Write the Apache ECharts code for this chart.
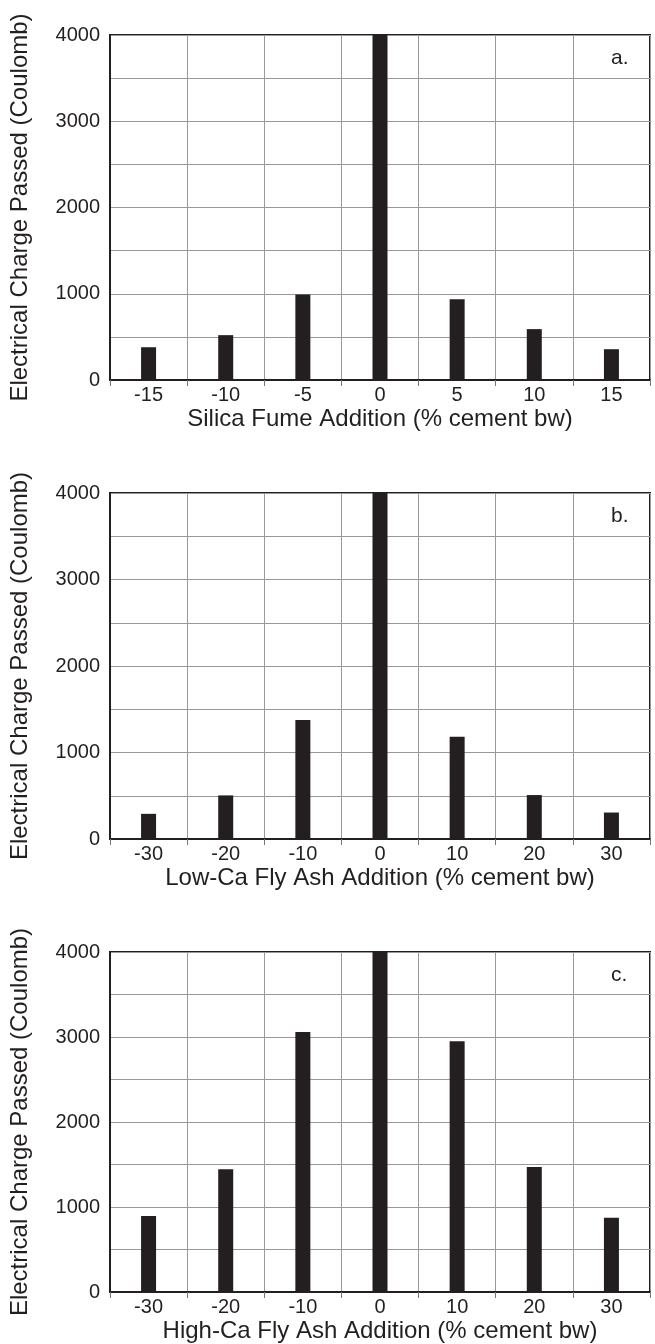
<!DOCTYPE html>
<html>
<head>
<meta charset="utf-8">
<script src="https://cdn.jsdelivr.net/npm/echarts@6/dist/echarts.min.js"></script>
<style>
  html, body { margin: 0; padding: 0; background: #fff; }
  #canvas { width: 655px; height: 1344px; }
</style>
</head>
<body>
<div id="canvas"></div>
<script>
/**
 * Chart data
 */
let silicaCats = ['-15', '-10', '-5', '0', '5', '10', '15'];
let flyAshCats = ['-30', '-20', '-10', '0', '10', '20', '30'];

// the 0 % bar runs to the top of every panel
let silicaCharge = [380, 520, 990, 4000, 935, 590, 357];
let lowCaCharge = [291, 504, 1376, 4000, 1182, 508, 306];
let highCaCharge = [895, 1445, 3060, 4000, 2950, 1470, 875];

let panelLetters = ['a.', 'b.', 'c.'];
let xNames = [
    'Silica Fume Addition (% cement bw)',
    'Low-Ca Fly Ash Addition (% cement bw)',
    'High-Ca Fly Ash Addition (% cement bw)'
];
let yName = 'Electrical Charge Passed (Coulomb)';

let panelTops = [35, 493, 952];
let panelHeights = [345, 346, 344];

let ink = '#231f20';
let fontFamily = 'Liberation Sans, Arial, sans-serif';

let eChartInstance = echarts.init(document.getElementById('canvas'));

function buildPanel(i, cats, values) {
    let grid = {
        left: 108, right: 5, top: panelTops[i], height: panelHeights[i],
        show: true, borderColor: ink, borderWidth: 2, backgroundColor: 'transparent'
    };
    let xAxis = {
        gridIndex: i,
        type: 'category',
        data: cats,
        name: xNames[i],
        nameLocation: 'middle',
        nameGap: 27,
        nameTextStyle: { color: ink, fontSize: 24, fontFamily: fontFamily },
        axisLine: { lineStyle: { color: ink, width: 2 } },
        axisTick: { show: true, length: 6, lineStyle: { color: '#777' } },
        axisLabel: { color: ink, fontSize: 20, fontFamily: fontFamily, margin: 5 },
        splitLine: { show: true, lineStyle: { color: '#999', width: 1 } }
    };
    let yAxis = {
        gridIndex: i,
        type: 'value',
        min: 0, max: 4000, interval: 500,
        name: yName,
        nameLocation: 'middle',
        nameGap: 78,
        nameTextStyle: { color: ink, fontSize: 24, fontFamily: fontFamily },
        axisLine: { show: true, lineStyle: { color: ink, width: 2 } },
        axisTick: { show: false },
        axisLabel: {
            color: ink, fontSize: 20, fontFamily: fontFamily, margin: 10,
            formatter: function (v) { return v % 1000 === 0 ? String(v) : ''; }
        },
        splitLine: { show: true, lineStyle: { color: '#999', width: 1 } }
    };
    let series = {
        type: 'bar',
        xAxisIndex: i, yAxisIndex: i,
        data: values,
        barWidth: 15,
        itemStyle: { color: ink },
        silent: true
    };
    let title = {
        text: panelLetters[i],
        left: 606, top: panelTops[i] + 8,
        textStyle: { color: ink, fontSize: 21, fontWeight: 'normal', fontFamily: fontFamily }
    };
    return { grid, xAxis, yAxis, series, title };
}

let panels = [
    buildPanel(0, silicaCats, silicaCharge),
    buildPanel(1, flyAshCats, lowCaCharge),
    buildPanel(2, flyAshCats, highCaCharge)
];

let eChartsOption = {
    backgroundColor: '#fff',
    animation: false,
    title: panels.map(p => p.title),
    grid: panels.map(p => p.grid),
    xAxis: panels.map(p => p.xAxis),
    yAxis: panels.map(p => p.yAxis),
    series: panels.map(p => p.series)
};

eChartInstance.setOption(eChartsOption, true);
</script>
</body>
</html>
